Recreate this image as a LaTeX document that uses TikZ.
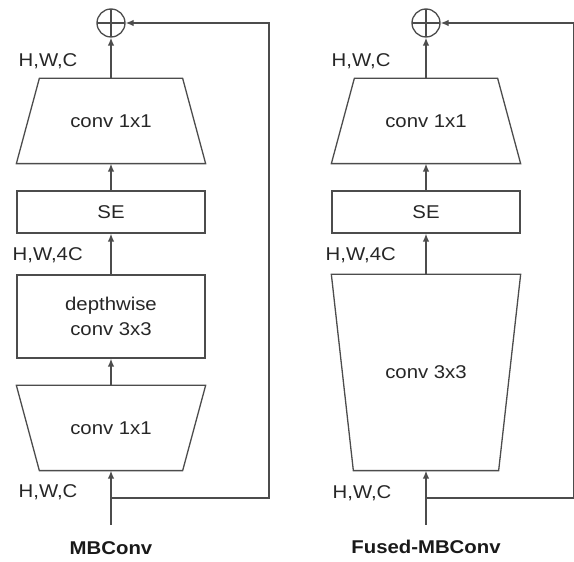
\documentclass[tikz,border=0pt]{standalone}
\usepackage{fontspec}
\setmainfont{Liberation Sans}[FakeStretch=1.1]
\usetikzlibrary{arrows.meta,positioning}

\begin{document}
\begin{tikzpicture}[x=1pt, y=1pt,
        font=\fontsize{18.5}{25}\selectfont,
        line width=1.3pt,
        block/.style={draw=black!70, minimum width=188pt, inner sep=0pt, align=center, text=black!85},
        trap/.style={minimum width=188pt, inner sep=0pt, align=center, text=black!85},
        sumnode/.style={circle, draw=black!70, minimum size=28pt, inner sep=0pt,
            path picture={\draw[black!70, line width=1.1pt]
                (path picture bounding box.north) -- (path picture bounding box.south)
                (path picture bounding box.west) -- (path picture bounding box.east);}},
        arr/.style={draw=black!70, -{Latex[length=8pt, width=6.5pt]}},
        outline/.style={draw=black!70, line join=miter},
        lbl/.style={anchor=west, inner sep=0pt, text=black!85},
        title/.style={inner sep=0pt, font=\fontsize{18.5}{22}\selectfont\bfseries, text=black!90}]
    \useasboundingbox (0,0) rectangle (574,562);

    % MBConv
    \node[sumnode] (addA) at (111,539) {};
    \node[trap, minimum height=84pt] (projA) at (111,441) {conv 1x1};
    \node[block, minimum height=42pt] (seA) at (111,350) {SE};
    \node[block, minimum height=83pt] (dwA) at (111,245.5) {depthwise\\conv 3x3};
    \node[trap, minimum height=84pt] (expA) at (111,134) {conv 1x1};

    % trapezoid outlines
    \draw[outline] ([xshift=23pt]projA.north west) -- ([xshift=-23pt]projA.north east)
        -- (projA.south east) -- (projA.south west) -- cycle;
    \draw[outline] (expA.north west) -- (expA.north east)
        -- ([xshift=-23pt]expA.south east) -- ([xshift=23pt]expA.south west) -- cycle;

    \coordinate (inA) at (111,37);
    \coordinate (brA) at (111,64);
    \coordinate (cnA) at (269,539);

    \draw[arr] (inA) -- (expA);
    \draw[arr] (expA) -- (dwA);
    \draw[arr] (dwA) -- (seA);
    \draw[arr] (seA) -- (projA);
    \draw[arr] (projA) -- (addA);
    \draw[arr] (brA) -| (cnA) -- (addA);

    \node[lbl] (hwcA) at (18,501) {H,W,C};
    \node[lbl] (hw4cA) at (12,307) {H,W,4C};
    \node[lbl] (hwcinA) at (18,70) {H,W,C};
    \node[title] (nameA) at (111,14) {MBConv};

    % Fused-MBConv
    \node[sumnode] (addB) at (426,539) {};
    \node[trap, minimum height=84pt] (projB) at (426,441) {conv 1x1};
    \node[block, minimum height=42pt] (seB) at (426,350) {SE};
    \node[trap, minimum height=195pt] (fusedB) at (426,189.5) {conv 3x3};

    \draw[outline] ([xshift=23pt]projB.north west) -- ([xshift=-23pt]projB.north east)
        -- (projB.south east) -- (projB.south west) -- cycle;
    \draw[outline] (fusedB.north west) -- (fusedB.north east)
        -- ([xshift=-22pt]fusedB.south east) -- ([xshift=22pt]fusedB.south west) -- cycle;

    \coordinate (inB) at (426,37);
    \coordinate (brB) at (426,64);
    \coordinate (cnB) at (574,539);

    \draw[arr] (inB) -- (fusedB);
    \draw[arr] (fusedB) -- (seB);
    \draw[arr] (seB) -- (projB);
    \draw[arr] (projB) -- (addB);
    \draw[arr] (brB) -| (cnB) -- (addB);

    \node[lbl] (hwcB) at (331,501) {H,W,C};
    \node[lbl] (hw4cB) at (325,307) {H,W,4C};
    \node[lbl] (hwcinB) at (332,69) {H,W,C};
    \node[title] (nameB) at (426,15) {Fused-MBConv};
\end{tikzpicture}
\end{document}
